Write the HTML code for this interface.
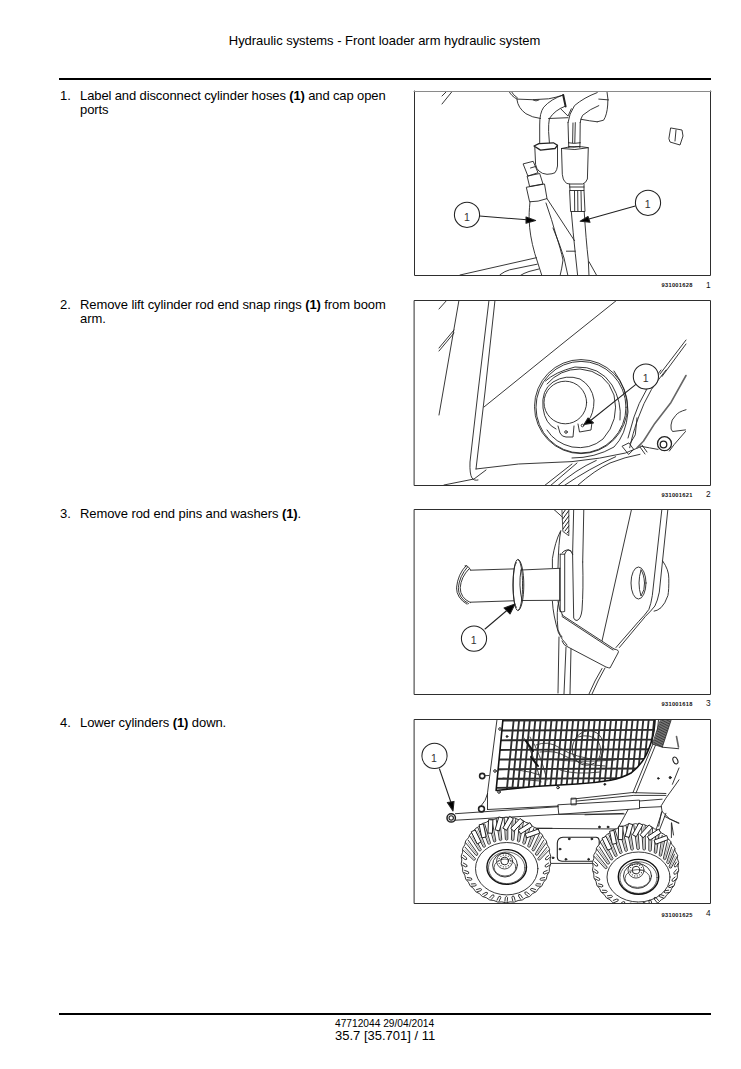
<!DOCTYPE html>
<html><head><meta charset="utf-8">
<style>
html,body{margin:0;padding:0;background:#fff;}
body{width:741px;height:1069px;position:relative;overflow:hidden;font-family:"Liberation Sans",sans-serif;color:#000;}
.a{position:absolute;white-space:nowrap;}
.hdr{font-size:13px;left:0;width:769px;text-align:center;top:33px;letter-spacing:-0.04px;}
.rule{position:absolute;left:59px;width:652px;height:2px;background:#000;}
.step{position:absolute;font-size:13px;line-height:14px;}
.num{position:absolute;left:60px;}
.txt{position:absolute;left:80px;letter-spacing:-0.08px;}
.box{position:absolute;left:414px;width:296px;height:184px;}
.cap{position:absolute;font-size:5.7px;font-weight:bold;left:661.5px;letter-spacing:0.3px;color:#111;}
.capn{position:absolute;font-size:8.3px;left:706px;color:#111;}
.ft1{font-size:10.2px;left:335px;top:1017.8px;}
.ft2{font-size:13px;left:335px;top:1028px;}
svg{position:absolute;left:0;top:0;}
</style></head><body>
<div class="a hdr">Hydraulic systems - Front loader arm hydraulic system</div>
<div class="rule" style="top:78px"></div>

<div class="a step" style="top:89px;left:0"><span class="num">1.</span><span class="txt" style="word-spacing:-0.22px">Label and disconnect cylinder hoses <b>(1)</b> and cap open<br>ports</span></div>
<div class="a step" style="top:298px;left:0"><span class="num">2.</span><span class="txt">Remove lift cylinder rod end snap rings <b>(1)</b> from boom<br>arm.</span></div>
<div class="a step" style="top:507px;left:0"><span class="num">3.</span><span class="txt">Remove rod end pins and washers <b>(1)</b>.</span></div>
<div class="a step" style="top:716px;left:0"><span class="num">4.</span><span class="txt">Lower cylinders <b>(1)</b> down.</span></div>

<svg width="741" height="1069" viewBox="0 0 741 1069" fill="none" stroke="#000" stroke-linecap="round" stroke-linejoin="round">
<defs>
<clipPath id="c1"><rect x="415" y="92" width="295" height="183"/></clipPath>
<clipPath id="c2"><rect x="415" y="301" width="295" height="184"/></clipPath>
<clipPath id="c3"><rect x="415" y="510" width="295" height="184"/></clipPath>
<clipPath id="c4"><rect x="415" y="719" width="295" height="184"/></clipPath>
</defs><g clip-path="url(#c1)"><g id="d1" stroke="#222" stroke-width="0.9">
<path d="M442,96 L447,91 M442,104 L452.5,91"/>
<path d="M508.9,91 Q511,96 517,99.1 M511,91 Q513,95 517.5,98"/>
<path d="M517,99.1 Q532,100.5 548.6,98.8 Q556,97.5 563.2,95"/>
<path d="M533,100 Q536,102 539,100"/>
<path d="M517,99.9 Q518,108 525.9,113.7 Q532,117.5 540.5,118.5 M548.6,118.5 L568,117.7 M581,119.3 Q590,121 597.2,121.8"/>
<path d="M563.2,95 Q551,99 543.7,107.2 Q539.5,113 539.7,125 L539.7,142.8"/>
<path d="M564.8,106.4 Q555,110 549.4,118.5 Q548.4,124 548.6,131.5 L549.4,142.8"/>
<path d="M563.2,95 L565.6,106.4" stroke-width="2"/>
<path d="M597.2,92.6 Q584,97.5 574.5,105.6 Q569,114 568,122.6"/>
<path d="M598.8,105.6 Q590,109 582.6,115.3 Q580.5,119 580.2,122.6"/>
<path d="M603.6,91 L606.9,91 Q608.5,100 607.7,105 Q607,115 603.6,120.2 L597.2,121.8 M598.8,99.1 L608.5,99.9"/>
<path d="M560.7,108.8 L568,116.1 L571.3,108.8"/>
<path d="M568,122.6 L568.6,142.8 M580.2,122.6 L580,142.8 M575.3,122.6 L574.8,142.8 M573,123 L572.6,142.8"/>
<path d="M568.6,142.8 L568.8,147.5 M580,142.8 L579.8,147.5 M568.6,142.8 Q574,144 580,142.8 M568.8,146.5 Q574,148 579.8,146.5"/>
<path d="M561.5,148.5 Q575,145 588.3,147.7 Q575,151 561.5,148.5"/>
<path d="M561.5,148.5 L562.3,174.3 Q563,180 564.8,181.6 Q566.5,184 569.6,184 L582.6,184 Q586,183 587.4,179 L588.3,147.7"/>
<path d="M534,146 L538.9,143.6 L553.4,142.8 L557.5,145.3 L555,148.5 L540.5,150.1 Z" stroke-width="1.3"/>
<path d="M534.8,147 L535.6,164.6 Q536.5,169 538.9,171 Q542,174 547,174.3 Q553,174 555,172.7 Q557,170 557.5,166 L557.5,145.3"/>
<path d="M569.6,184 L570,190.5 M584,184 L584,190.5 M569.6,187 L584,187"/>
<path d="M570,190.5 L584,190.5 L585,211.5 L571,211.5 Z M574.5,191 L574.7,211 M577.7,191 L577.9,211 M581,191 L581.4,211"/>
<path d="M571.3,211.5 Q573,232 575.3,253.6 L577.7,276 M584.2,211.5 Q586,240 588.3,260 L589,276 M589,261.7 L597,276"/>
<path d="M523.5,163.8 L533.2,161.3 L538,172.7 L528.3,176 Z M527.5,176 L539.7,173.5 L543,184 L530,186.4 Z M530.5,168 L535.5,166.5"/>
<path d="M526.7,187.2 L544.5,184 L547,198.6 Q538,202 530,201.8 Z"/>
<path d="M530,201.8 Q528.8,214 529.2,220 Q529.5,235 534.8,253.6 L542,276"/>
<path d="M547,198.6 L574.5,240.7 M546,203 Q552,220 556,235 Q561,250 563,260 Q562,268 560,276 M553,228 Q560,245 564,258 L568,276 M566.4,251.2 L575.3,251.2"/>
<path d="M460,275 L536.4,257.7 M500,274.7 Q505,271 509.7,269.8 L537.2,264.2 M519.4,276 Q524,273 529,271.5 L538.9,269"/>
<path d="M671,128 L682,130 L683,136 L680,145 L670,142 L669,139 Z M676,130 L675,141"/>
</g>
<g id="d1c" stroke="#222" stroke-width="1.05">
<circle cx="467" cy="214.8" r="12.6" fill="#fff"/>
<circle cx="648" cy="202.8" r="12.6" fill="#fff"/>
<path d="M479.5,216 L527,219.8 M635.3,206 L589,219"/>
<path d="M535.6,220.4 L526,217 L526,223.2 Z M580.2,221.3 L588,216.5 L590,222.3 Z" fill="#000"/>
</g>
<text x="466.8" y="220.6" font-size="10.5" text-anchor="middle" fill="#333" stroke="none" font-family="Liberation Sans">1</text>
<text x="647.6" y="208.4" font-size="10.5" text-anchor="middle" fill="#333" stroke="none" font-family="Liberation Sans">1</text>
</g><g clip-path="url(#c2)"><g id="d2" stroke="#222" stroke-width="0.9">
<path d="M439,309 L447,300"/>
<path d="M459,300 L443,392 L439,415"/>
<path d="M439,348 L454,330 M439,351 L454,333"/>
<path d="M489,300 L478,392 L470,462 Q469.5,474 472,478 Q474,481 478,480 M495,300 L485,392 L476,469"/>
<path d="M484,407 L562,344 L617,300"/>
<path d="M476,469 L518.6,464 L572,461.6 Q600,459 625.5,453 L640,447 M444,485 L474,479 L486,470"/>
<path d="M660,374 L686,340 M662,376.5 L686,344"/>
<path d="M666,370 Q655,384 651.5,389.4 Q643,404 638.6,417 Q634,430 632,438 L629.7,447.7 M661,370 Q650,384 646.7,389.4 Q638,404 634,417 L628,438"/>
<path d="M686,375.5 L671,402.4 L654.8,423.4 L643.4,441.3 L637,447.7" stroke="#666" stroke-width="1.6"/>
<path d="M686,409.7 Q678,412 675.8,415.3 Q671,420 671,425 Q670.5,430 672.6,431.5 L685.5,429.9 M685.5,431.5 L674.2,444.5 L669.4,451"/>
<circle cx="664.5" cy="443.7" r="7" stroke-width="1.3"/>
<circle cx="663.5" cy="444.5" r="3.3" stroke-width="1.3"/>
<path d="M640.2,446.1 Q650,448 658,449.4 M622.4,446.1 L628.9,442.9 L633.7,449.4 L628.9,454.2 Z M640,447 L645,454 M642,445 L647,452"/>
<path d="M544,486 L572,464 M550,486 L577,463 M557.4,486 Q575,470 596.3,460.4 M563.5,486 Q590,468 615.7,456.7 M576.9,486 Q595,470 610,463 Q625,457 640,454.3"/>
<path d="M637,417.8 Q636,428 635.3,434.8 L630.5,442.9"/>
<ellipse cx="581" cy="406.6" rx="46.5" ry="47"/>
<ellipse cx="581" cy="407.2" rx="45" ry="45.8"/>
<path d="M547,384 Q560,369 580,369 Q606,371 614,395 Q620,420 603,439 Q590,450 572,447 Q555,443 547,430"/>
<path d="M545.5,381 Q555,372 575,367 Q600,366 612,385 Q622,402 620,420"/>
<path d="M572,458 Q595,458 614,447 Q626,435 628,412 Q628,390 614,371"/>
<circle cx="565.3" cy="402.5" r="21.3"/>
<path d="M556,429 Q545,424 543,408 Q541,390 553,382 Q566,374 580,379 Q592,386 594,400 Q594,414 588,421"/>
<path d="M558,426 L560,433 Q562,437 566,437 L573,437 L574,426 M578,424 L579.5,432 L591,430 L592,422"/>
<circle cx="566" cy="432" r="1.3"/>
<circle cx="582.5" cy="425.5" r="1.3"/>
</g>
<g stroke="#222" stroke-width="1.05" fill="none">
<circle cx="645.9" cy="376.5" r="12.6" fill="#fff"/>
<path d="M635.6,384.6 L590,421"/>
<path d="M584,424.5 L588,418 L593.5,423 Z" fill="#000"/>
</g>
<text x="645.6" y="381.9" font-size="10.5" text-anchor="middle" fill="#333" stroke="none" font-family="Liberation Sans">1</text>
</g><g clip-path="url(#c3)"><g id="d3" stroke="#222" stroke-width="0.9">
<path d="M470.4,570.2 L513.5,568.9 M470.4,602.2 L513.5,600.8"/>
<path d="M466.3,565.5 Q457.8,574 456.5,587.8 Q456.5,598 467,604.2 M469,568.9 Q461,577 460.2,587.8 Q460.3,598 470.4,602.6 M467.5,567 Q459.5,576 458.3,587.8 Q458.3,598 468.5,603.6"/>
<path d="M465,565.8 Q468,565 470.4,569.8"/>
<ellipse cx="517.8" cy="585" rx="4.8" ry="25.5"/><path d="M518.2,559.5 A5.6,25.5 0 0 1 518.2,610.5 M516.5,562.5 A3.4,22.5 0 0 0 516.5,607.5"/>

<path d="M521,570 L559.9,568.3 M522,600.5 L559.9,600.3 M521,570 Q518.3,585 522,600.5"/>
<path d="M560.2,531.7 Q555,542 552.4,558.7 L552.4,567.7 M552.4,601.4 Q553,615 558.5,632.9 Q562,640 567,645 M560.8,530.6 Q558.5,542 558,567.7 M558,601.4 Q558.5,610 562.5,614.9 M559.7,568.3 L559.7,600.3"/>
<path d="M560.2,554.2 L560.2,611.5 M560.2,554.2 L564.7,554.2 Q566.5,550 568,549.7 Q571,549.5 572.6,554.2 M564.7,554.2 L564.7,611.5 Q562,612.5 560.2,611.5"/>
<path d="M572.6,554.2 L573.7,618 Q574.5,620.5 577,620.5 Q581,619 582,610 Q583.5,590 582.7,562"/>
<path d="M573.7,509 L572.6,554.2 M583.8,509 L582.7,562"/>
<path d="M562.3,509 L568.8,509 L568.8,535.7 L563.2,531.7 Z" stroke-width="0.8"/>
<path d="M562.5,514 L566,509 M562.7,519 L568.5,511 M562.9,524 L568.8,516 M563,529 L568.8,521 M565,531 L568.8,526 M567,533 L568.8,531" stroke-width="1"/>
<path d="M553.4,509 L562.3,517"/>
<path d="M631.6,509 L602.1,640.6"/>
<path d="M661.9,509 L652.3,595.6 Q651,604 648.9,609.4 Q645,615 638.5,621.6 L616,647.5 M667.9,509 L659.3,592.1 Q657.5,601 654.9,606 Q651,611 645.4,616.4 L619.4,647.5"/>
<ellipse cx="638.5" cy="583" rx="7.5" ry="16"/>
<path d="M641,570 Q637,583 641,596 Q645,590 644.5,583 Q644,574 641,570"/>
<path d="M662.7,561 Q669,570 668.8,578.3 Q669,590 667.9,595.6 Q665,604 661,607.7 Q657,611 654.1,611.2"/>
<path d="M562,553 Q566,548 571,551"/>
<path d="M559,601 Q556,610 558,630 Q560,635 562,637 M559,637 L558,693"/>
<path d="M562,615 L614,649 M562,616.5 L613,650"/>
<path d="M562,641 Q563,645 568,647 L606,667 Q609,668 610,668 L618,653 Q620,650 614,649"/>
<path d="M566,647 L564,694 M571,649 L570,694"/>

<path d="M605,668 L598,681 L592,694 M602,668.5 L595,681 L589,694"/>

</g>
<g stroke="#222" stroke-width="1.05" fill="none">
<circle cx="474" cy="638.6" r="12.6" fill="#fff"/>
<path d="M485,629 L508,609.5"/>
<path d="M515,604 L504,608 L510,614 Z" fill="#000"/>
</g>
<text x="473.6" y="644.1" font-size="10.5" text-anchor="middle" fill="#333" stroke="none" font-family="Liberation Sans">1</text>
</g><g clip-path="url(#c4)"><!--D4--><g id="d4" stroke="#222" stroke-width="0.9">
<defs><clipPath id="gclip"><path d="M503,719 L655,719 Q654.5,731 652.2,738.7 Q649,750 644.7,757.6 Q639,767 631.5,772.7 Q622,778 610.7,780.2 Q595,783 576.7,784 L534.5,786.5 L496.1,790.5 Z"/></clipPath></defs>
<g clip-path="url(#gclip)">
<path d="M490,720.6 L665,719.8" stroke="#2a2a2a" stroke-width="1.9"/>
<path d="M490,730.6 L665,729.8" stroke="#2a2a2a" stroke-width="1.9"/>
<path d="M490,740.4 L665,739.6" stroke="#2a2a2a" stroke-width="1.9"/>
<path d="M490,750.0 L665,749.2" stroke="#2a2a2a" stroke-width="1.9"/>
<path d="M490,759.6 L665,758.8" stroke="#2a2a2a" stroke-width="1.9"/>
<path d="M490,769.2 L665,768.4" stroke="#2a2a2a" stroke-width="1.9"/>
<path d="M490,778.8 L665,778.0" stroke="#2a2a2a" stroke-width="1.9"/>
<path d="M490,787.9 L665,787.1" stroke="#2a2a2a" stroke-width="1.9"/>
<path d="M513.9,718 L506.6,792" stroke="#2e2e2e" stroke-width="1.85"/>
<path d="M519.3,718 L512.0,792" stroke="#2e2e2e" stroke-width="1.85"/>
<path d="M524.7,718 L517.4,792" stroke="#2e2e2e" stroke-width="1.85"/>
<path d="M530.1,718 L522.8,792" stroke="#2e2e2e" stroke-width="1.85"/>
<path d="M535.5,718 L528.2,792" stroke="#2e2e2e" stroke-width="1.85"/>
<path d="M540.9,718 L533.6,792" stroke="#2e2e2e" stroke-width="1.85"/>
<path d="M546.3,718 L539.0,792" stroke="#2e2e2e" stroke-width="1.85"/>
<path d="M551.7,718 L544.4,792" stroke="#2e2e2e" stroke-width="1.85"/>
<path d="M557.1,718 L549.8,792" stroke="#2e2e2e" stroke-width="1.85"/>
<path d="M562.5,718 L555.2,792" stroke="#2e2e2e" stroke-width="1.85"/>
<path d="M567.9,718 L560.6,792" stroke="#2e2e2e" stroke-width="1.85"/>
<path d="M573.3,718 L566.0,792" stroke="#2e2e2e" stroke-width="1.85"/>
<path d="M578.7,718 L571.4,792" stroke="#2e2e2e" stroke-width="1.85"/>
<path d="M584.1,718 L576.8,792" stroke="#2e2e2e" stroke-width="1.85"/>
<path d="M589.5,718 L582.2,792" stroke="#2e2e2e" stroke-width="1.85"/>
<path d="M594.9,718 L587.6,792" stroke="#2e2e2e" stroke-width="1.85"/>
<path d="M600.3,718 L593.0,792" stroke="#2e2e2e" stroke-width="1.85"/>
<path d="M605.7,718 L598.4,792" stroke="#2e2e2e" stroke-width="1.85"/>
<path d="M611.1,718 L603.8,792" stroke="#2e2e2e" stroke-width="1.85"/>
<path d="M616.5,718 L609.2,792" stroke="#2e2e2e" stroke-width="1.85"/>
<path d="M621.9,718 L614.6,792" stroke="#2e2e2e" stroke-width="1.85"/>
<path d="M627.3,718 L620.0,792" stroke="#2e2e2e" stroke-width="1.85"/>
<path d="M632.7,718 L625.4,792" stroke="#2e2e2e" stroke-width="1.85"/>
<path d="M638.1,718 L630.8,792" stroke="#2e2e2e" stroke-width="1.85"/>
<path d="M643.5,718 L636.2,792" stroke="#2e2e2e" stroke-width="1.85"/>
<path d="M648.9,718 L641.6,792" stroke="#2e2e2e" stroke-width="1.85"/>
<path d="M654.3,718 L647.0,792" stroke="#2e2e2e" stroke-width="1.85"/>
<path d="M659.7,718 L652.4,792" stroke="#2e2e2e" stroke-width="1.85"/>
<path d="M665.1,718 L657.8,792" stroke="#2e2e2e" stroke-width="1.85"/>
<ellipse cx="588" cy="748" rx="15.5" ry="17.5" transform="rotate(20 588 748)" stroke="#333" stroke-width="0.9"/>
<path d="M578,737 Q590,733 598,741 Q603,750 599,758" stroke="#333" stroke-width="0.9"/>
<path d="M524,738 Q533,752 541,782 M530,737 Q540,752 547,780 M536,745 Q548,740 560,748 Q575,758 600,760 M540,752 Q556,750 565,756 Q580,765 605,766 M550,759 Q575,763 615,760 M498,770 Q520,768 540,775 M503,778 L540,781 M560,770 Q575,775 600,772" stroke="#333" stroke-width="0.9"/>
<path d="M526,741 L533,751 M531,757 L538,766" stroke="#111" stroke-width="2"/>
</g>
<path d="M503,719 L655,719 Q654.5,731 652.2,738.7 Q649,750 644.7,757.6 Q639,767 631.5,772.7 Q622,778 610.7,780.2 Q595,783 576.7,784 L534.5,786.5 L496.1,790.5 Z" stroke="#111" stroke-width="1.6"/>
<path d="M655,719.5 Q654.5,731 652.2,738.7 L652.8,744.3 L633,792.5 M658.5,720 L656,744 L636,793" stroke-width="0.9"/>
<path d="M497,719.5 L487.5,792.9 L487.5,809.5 M487.6,793.5 Q486,801 481,806"/>
<circle cx="500" cy="729" r="1.3" stroke-width="1"/>
<circle cx="495" cy="771" r="1.3" stroke-width="1"/>
<circle cx="499" cy="792" r="1.3" stroke-width="1"/>
<circle cx="558" cy="787.5" r="1.3" stroke-width="1"/>
<circle cx="507" cy="736.5" r="0.9" fill="#111"/>
<circle cx="482.2" cy="776" r="2.6" stroke-width="1.6"/><path d="M485,775.7 L489,775.5"/>
<circle cx="481.5" cy="809" r="2.9" stroke-width="1.6"/>
<defs><clipPath id="hclip"><path d="M660.9,719.5 L671.3,719.5 L662.3,747.2 L652.7,744.2 Z"/></clipPath></defs>
<path d="M660.9,719.5 L671.3,719.5 L662.3,747.2 L652.7,744.2 Z" fill="#9a9a9a" stroke="#333" stroke-width="0.8"/>
<g clip-path="url(#hclip)"><path d="M650,699.0 L675,691.0 M650,700.6 L675,692.6 M650,702.2 L675,694.2 M650,703.8 L675,695.8 M650,705.4 L675,697.4 M650,707.0 L675,699.0 M650,708.6 L675,700.6 M650,710.2 L675,702.2 M650,711.8 L675,703.8 M650,713.4 L675,705.4 M650,715.0 L675,707.0 M650,716.6 L675,708.6 M650,718.2 L675,710.2 M650,719.8 L675,711.8 M650,721.4 L675,713.4 M650,723.0 L675,715.0 M650,724.6 L675,716.6 M650,726.2 L675,718.2 M650,727.8 L675,719.8 M650,729.4 L675,721.4 M650,731.0 L675,723.0 M650,732.6 L675,724.6 M650,734.2 L675,726.2 M650,735.8 L675,727.8 M650,737.4 L675,729.4 M650,739.0 L675,731.0 M650,740.6 L675,732.6 M650,742.2 L675,734.2 M650,743.8 L675,735.8 M650,745.4 L675,737.4 M650,747.0 L675,739.0 M650,748.6 L675,740.6 M650,750.2 L675,742.2 M650,751.8 L675,743.8 M650,753.4 L675,745.4 M650,755.0 L675,747.0 M650,756.6 L675,748.6 M650,758.2 L675,750.2 M650,759.8 L675,751.8 M650,761.4 L675,753.4 M650,763.0 L675,755.0 M650,764.6 L675,756.6 M650,766.2 L675,758.2 M650,767.8 L675,759.8 M650,769.4 L675,761.4 M650,771.0 L675,763.0 M650,772.6 L675,764.6 M650,774.2 L675,766.2 M650,775.8 L675,767.8 M650,777.4 L675,769.4 " stroke="#222" stroke-width="0.8"/></g>
<path d="M676.5,736.5 L678.5,747" stroke="#666" stroke-width="1.6"/>
<path d="M662.3,747.2 L678.7,748.7" stroke-width="0.9"/>
<ellipse cx="675.4" cy="760.5" rx="2.2" ry="3.6" transform="rotate(-25 675.4 760.5)" stroke-width="1.1"/>
<circle cx="658.3" cy="778.4" r="0.8" fill="#222"/><circle cx="670.2" cy="777.6" r="1.1" fill="#222"/>
<path d="M679,768 L672.4,784.3 M679,779.8 L675.4,785 L665.9,798.2 L661.2,805.8 L662.1,811.5 L669.7,819 L679,823"/>
<circle cx="451.2" cy="817.9" r="4.2" stroke-width="1.5"/><circle cx="451.2" cy="817.9" r="2.2" stroke-width="1.1"/>
<path d="M455.4,813.7 L558.2,806.7 M455.4,820.2 L559.2,814.3 L624.3,814"/>
<path d="M558.2,804.8 L639.5,800.1 L639.5,808.6 L559.2,814.3 Z M639.5,801 L662.1,799.2 M639.5,807.7 L661.2,806.7"/>
<path d="M571.4,799.2 L631.9,792.6 L665.9,793.5 M576.2,801.1 L633.8,795.4 L665.9,795.4 M571.4,798.2 L576.2,798.2 L576.2,804.8 L571.4,804.8 Z"/>
<path d="M487.5,809.5 L558.2,806"/>
<path d="M628.1,809.6 L616.8,830.3"/>
<path d="M662.1,811.5 L656.5,828.5 M665.9,813.3 L659.3,830.3 M671.6,822.8 L673.5,835"/>
<path d="M534,828.3 L618.3,829 M585,814.8 L623.3,813.4"/>
<path d="M563,837.2 L596,837.2 Q599,837.5 599.2,840.5 L599.2,858.5 Q599,861.2 596,861.2 L562,861.2 Q557.3,861 557.3,857 L557.3,843 Q557.6,837.5 563,837.2 Z" stroke-width="1.1"/>
<path d="M550.8,863.4 L597.2,863.4 M534,828.3 L552,828.3"/>
<circle cx="599.4" cy="827" r="0.9" fill="#222"/>
<circle cx="608" cy="827" r="0.9" fill="#222"/>
<circle cx="569.2" cy="838.9" r="0.9" fill="#222"/>
<circle cx="591.8" cy="838.9" r="0.9" fill="#222"/>
<circle cx="560" cy="849.1" r="0.9" fill="#222"/>
<circle cx="565.9" cy="859.3" r="0.9" fill="#222"/>
<circle cx="588.6" cy="859.3" r="0.9" fill="#222"/>
<circle cx="553" cy="857.8" r="0.9" fill="#222"/>
<circle cx="604.8" cy="784.3" r="0.9" fill="#222"/>
<path d="M661.5,812 L658.7,826.2 M664.4,816.3 L678.5,823.3 M671.4,823.3 L671.4,837.5"/>
<path d="M550.2,860.0 Q551.8,864.0 549.4,867.7 Q550.2,872.0 547.2,875.2 Q547.2,879.5 543.6,882.2 Q542.7,886.4 538.6,888.4 Q537.0,892.4 532.6,893.6 Q530.2,897.3 525.7,897.7 Q522.6,900.9 518.1,900.5 Q514.4,903.1 510.1,901.9 Q506.0,903.8 501.9,901.9 Q497.6,903.1 493.9,900.5 Q489.4,900.9 486.3,897.7 Q481.8,897.3 479.4,893.6 Q475.0,892.4 473.4,888.4 Q469.3,886.4 468.4,882.2 Q464.8,879.5 464.8,875.2 Q461.8,872.0 462.6,867.7 Q460.2,864.0 461.8,860.0 Q460.2,856.0 462.6,852.3 Q461.8,848.0 464.8,844.8 Q464.8,840.5 468.4,837.8 Q469.3,833.6 473.4,831.6 Q475.0,827.6 479.4,826.4 Q481.8,822.7 486.3,822.3 Q489.4,819.1 493.9,819.5 Q497.6,816.9 501.9,818.1 Q506.0,816.2 510.1,818.1 Q514.4,816.9 518.1,819.5 Q522.6,819.1 525.7,822.3 Q530.2,822.7 532.6,826.4 Q537.0,827.6 538.6,831.6 Q542.7,833.6 543.6,837.8 Q547.2,840.5 547.2,844.8 Q550.2,848.0 549.4,852.3 Q551.8,856.0 550.2,860.0" fill="#fff" stroke-width="0.9"/>
<ellipse cx="506.7" cy="868.7" rx="31.2" ry="26.2" fill="#fff" stroke-width="0.9"/>
<path d="M548.7,863.0 L545.4,865.1 Q544.1,867.2 546.6,867.0 L549.9,865.0" stroke-width="0.9"/>
<path d="M547.3,870.4 L543.7,871.9 Q542.1,873.8 544.6,874.0 L548.2,872.6" stroke-width="0.9"/>
<path d="M544.6,877.5 L540.8,878.2 Q538.8,879.7 541.2,880.4 L545.0,879.8" stroke-width="0.9"/>
<path d="M540.7,884.0 L536.8,883.7 Q534.5,884.7 536.6,886.0 L540.5,886.2" stroke-width="0.9"/>
<path d="M535.6,889.6 L531.9,888.3 Q529.4,888.7 531.1,890.5 L534.8,891.8" stroke-width="0.9"/>
<path d="M529.5,894.3 L526.4,892.0 Q523.9,891.6 525.0,893.8 L528.1,896.2" stroke-width="0.9"/>
<path d="M522.6,898.0 L520.4,894.7 Q518.2,893.5 518.5,896.0 L520.7,899.3" stroke-width="0.9"/>
<path d="M515.1,900.4 L514.1,896.6 Q512.5,894.8 511.9,897.2 L512.8,901.0" stroke-width="0.9"/>
<path d="M507.2,901.5 L507.6,897.6 Q506.7,895.3 505.3,897.4 L504.9,901.3" stroke-width="0.9"/>
<path d="M499.1,901.2 L500.8,897.6 Q500.6,895.2 498.7,896.7 L497.0,900.2" stroke-width="0.9"/>
<path d="M491.3,899.4 L493.9,896.5 Q494.5,894.1 492.2,895.0 L489.6,897.9" stroke-width="0.9"/>
<path d="M483.8,896.3 L487.2,894.2 Q488.4,892.1 486.0,892.3 L482.6,894.3" stroke-width="0.9"/>
<path d="M477.2,891.8 L480.9,890.7 Q482.7,889.0 480.2,888.5 L476.5,889.6" stroke-width="0.9"/>
<path d="M471.5,886.3 L475.4,886.0 Q477.5,884.7 475.2,883.7 L471.3,884.0" stroke-width="0.9"/>
<path d="M467.0,879.8 L470.8,880.3 Q473.2,879.5 471.2,878.1 L467.3,877.5" stroke-width="0.9"/>
<path d="M463.9,872.6 L467.5,873.9 Q470.0,873.5 468.3,871.7 L464.6,870.4" stroke-width="0.9"/>
<path d="M462.2,865.0 L465.6,866.9 Q468.1,866.9 466.7,864.9 L463.3,863.0" stroke-width="0.9"/>
<path d="M462.0,857.2 L465.1,859.6 Q467.5,860.1 466.5,857.8 L463.4,855.4" stroke-width="0.9"/>
<path d="M462.7,849.9 L473.7,860.2 Q475.5,860.3 475.4,858.6 L465.2,847.3" fill="#fff" stroke-width="0.9"/>
<path d="M465.0,849.7 L474.6,859.4" stroke="#888" stroke-width="0.7"/>
<path d="M465.4,842.5 L476.0,855.4 Q477.7,855.7 477.9,853.9 L468.3,840.3" fill="#fff" stroke-width="0.9"/>
<path d="M467.8,842.6 L477.0,854.6" stroke="#888" stroke-width="0.7"/>
<path d="M469.6,835.8 L479.2,850.9 Q480.9,851.4 481.3,849.7 L472.7,834.0" fill="#fff" stroke-width="0.9"/>
<path d="M471.9,836.2 L480.3,850.3" stroke="#888" stroke-width="0.7"/>
<path d="M474.9,829.9 L483.3,847.1 Q485.0,847.8 485.5,846.1 L478.2,828.4" fill="#fff" stroke-width="0.9"/>
<path d="M477.2,830.6 L484.4,846.6" stroke="#888" stroke-width="0.7"/>
<path d="M481.3,825.1 L488.2,844.0 Q489.7,844.8 490.5,843.2 L484.7,824.0" fill="#fff" stroke-width="0.9"/>
<path d="M483.5,826.0 L489.3,843.6" stroke="#888" stroke-width="0.7"/>
<path d="M488.5,821.5 L493.6,841.6 Q495.1,842.6 495.9,841.1 L492.0,820.7" fill="#fff" stroke-width="0.9"/>
<path d="M490.5,822.6 L494.8,841.3" stroke="#888" stroke-width="0.7"/>
<path d="M496.2,819.2 L499.4,840.1 Q500.8,841.3 501.8,839.8 L499.8,818.8" fill="#fff" stroke-width="0.9"/>
<path d="M498.2,820.5 L500.6,840.0" stroke="#888" stroke-width="0.7"/>
<path d="M504.2,818.4 L505.4,839.5 Q506.7,840.8 507.8,839.5 L507.8,818.3" fill="#fff" stroke-width="0.9"/>
<path d="M506.0,819.8 L506.6,839.5" stroke="#888" stroke-width="0.7"/>
<path d="M512.2,818.9 L511.4,839.9 Q512.5,841.2 513.8,840.0 L515.8,819.1" fill="#fff" stroke-width="0.9"/>
<path d="M513.9,820.5 L512.6,840.0" stroke="#888" stroke-width="0.7"/>
<path d="M520.0,820.8 L517.3,841.1 Q518.2,842.6 519.6,841.5 L523.6,821.4" fill="#fff" stroke-width="0.9"/>
<path d="M521.5,822.6 L518.5,841.3" stroke="#888" stroke-width="0.7"/>
<path d="M527.3,824.1 L522.7,843.2 Q523.6,844.8 525.1,843.8 L530.8,825.0" fill="#fff" stroke-width="0.9"/>
<path d="M528.6,826.0 L523.9,843.5" stroke="#888" stroke-width="0.7"/>
<path d="M533.8,828.5 L527.7,846.1 Q528.3,847.8 529.9,847.0 L537.1,829.8" fill="#fff" stroke-width="0.9"/>
<path d="M534.9,830.6 L528.8,846.5" stroke="#888" stroke-width="0.7"/>
<path d="M539.3,834.1 L531.9,849.7 Q532.4,851.4 534.0,850.8 L542.5,835.7" fill="#fff" stroke-width="0.9"/>
<path d="M540.2,836.2 L533.0,850.2" stroke="#888" stroke-width="0.7"/>
<path d="M543.6,840.4 L535.3,853.9 Q535.6,855.6 537.3,855.2 L546.6,842.4" fill="#fff" stroke-width="0.9"/>
<path d="M544.3,842.7 L536.3,854.5" stroke="#888" stroke-width="0.7"/>
<path d="M546.7,847.4 L537.8,858.5 Q537.8,860.3 539.6,860.1 L549.4,849.8" fill="#fff" stroke-width="0.9"/>
<path d="M547.1,849.7 L538.7,859.3" stroke="#888" stroke-width="0.7"/>
<path d="M548.6,855.5 L545.6,858.0 Q544.7,860.3 547.1,859.8 L550.1,857.2" stroke-width="0.9"/>
<path d="M480.9,841.6 L475.2,829.9 L471.2,831.8 L477.0,843.6 Z" fill="#fff" stroke-width="1.0"/>
<path d="M486.1,836.6 L483.4,823.9 L479.1,824.8 L481.8,837.5 Z" fill="#fff" stroke-width="1.0"/>
<path d="M492.4,832.9 L492.9,819.9 L488.5,819.7 L488.0,832.7 Z" fill="#fff" stroke-width="1.0"/>
<path d="M499.4,830.6 L503.0,818.1 L498.8,816.9 L495.2,829.4 Z" fill="#fff" stroke-width="1.0"/>
<path d="M506.8,830.0 L513.4,818.7 L509.6,816.4 L503.0,827.8 Z" fill="#fff" stroke-width="1.0"/>
<path d="M514.1,831.0 L523.3,821.5 L520.1,818.4 L510.9,828.0 Z" fill="#fff" stroke-width="1.0"/>
<path d="M521.0,833.7 L532.3,826.4 L529.9,822.7 L518.6,830.0 Z" fill="#fff" stroke-width="1.0"/>
<path d="M527.0,837.7 L539.8,833.2 L538.3,829.0 L525.6,833.6 Z" fill="#fff" stroke-width="1.0"/>
<ellipse cx="506.7" cy="867" rx="19.8" ry="17.4" stroke="#111" stroke-width="1.4"/>
<ellipse cx="506.7" cy="867.8" rx="18.2" ry="15.799999999999999" stroke-width="0.7"/>
<ellipse cx="505" cy="865" rx="12.4" ry="12" stroke-width="0.9"/>
<ellipse cx="505" cy="867.5" rx="10.9" ry="8.5" stroke-width="0.7"/>
<circle cx="504.6" cy="861" r="8" stroke-width="0.8"/>
<circle cx="504.6" cy="861" r="3.8" stroke-width="1"/>
<circle cx="510.6" cy="861.0" r="0.6" fill="#333" stroke="none"/>
<circle cx="510.0" cy="863.6" r="0.6" fill="#333" stroke="none"/>
<circle cx="508.3" cy="865.7" r="0.6" fill="#333" stroke="none"/>
<circle cx="505.9" cy="866.8" r="0.6" fill="#333" stroke="none"/>
<circle cx="503.3" cy="866.8" r="0.6" fill="#333" stroke="none"/>
<circle cx="500.9" cy="865.7" r="0.6" fill="#333" stroke="none"/>
<circle cx="499.2" cy="863.6" r="0.6" fill="#333" stroke="none"/>
<circle cx="498.6" cy="861.0" r="0.6" fill="#333" stroke="none"/>
<circle cx="499.2" cy="858.4" r="0.6" fill="#333" stroke="none"/>
<circle cx="500.9" cy="856.3" r="0.6" fill="#333" stroke="none"/>
<circle cx="503.3" cy="855.2" r="0.6" fill="#333" stroke="none"/>
<circle cx="505.9" cy="855.2" r="0.6" fill="#333" stroke="none"/>
<circle cx="508.3" cy="856.3" r="0.6" fill="#333" stroke="none"/>
<circle cx="510.0" cy="858.4" r="0.6" fill="#333" stroke="none"/>
<path d="M678.1,866.3 Q679.7,870.3 677.4,874.0 Q678.2,878.2 675.2,881.4 Q675.2,885.8 671.7,888.4 Q670.9,892.6 667.0,894.5 Q665.4,898.6 661.2,899.8 Q658.9,903.4 654.5,903.8 Q651.6,907.0 647.2,906.6 Q643.7,909.2 639.5,908.0 Q635.6,909.9 631.7,908.0 Q627.5,909.2 624.0,906.6 Q619.6,907.0 616.7,903.8 Q612.3,903.4 610.0,899.8 Q605.8,898.6 604.2,894.5 Q600.3,892.6 599.5,888.4 Q596.0,885.8 596.0,881.4 Q593.0,878.2 593.8,874.0 Q591.5,870.3 593.1,866.3 Q591.5,862.3 593.8,858.6 Q593.0,854.4 596.0,851.2 Q596.0,846.8 599.5,844.2 Q600.3,840.0 604.2,838.1 Q605.8,834.0 610.0,832.8 Q612.3,829.2 616.7,828.8 Q619.6,825.6 624.0,826.0 Q627.5,823.4 631.7,824.6 Q635.6,822.7 639.5,824.6 Q643.7,823.4 647.2,826.0 Q651.6,825.6 654.5,828.8 Q658.9,829.2 661.2,832.8 Q665.4,834.0 667.0,838.1 Q670.9,840.0 671.7,844.2 Q675.2,846.8 675.2,851.2 Q678.2,854.4 677.4,858.6 Q679.7,862.3 678.1,866.3" fill="#fff" stroke-width="0.9"/>
<ellipse cx="638.5" cy="877" rx="31.5" ry="25" fill="#fff" stroke-width="0.9"/>
<path d="M676.4,869.6 L673.9,872.6 Q673.4,875.1 675.7,874.1 L678.2,871.1" stroke-width="0.9"/>
<path d="M675.1,877.0 L672.1,879.5 Q671.2,881.8 673.6,881.3 L676.6,878.7" stroke-width="0.9"/>
<path d="M672.5,883.9 L669.0,885.7 Q667.6,887.7 670.0,887.7 L673.5,886.0" stroke-width="0.9"/>
<path d="M668.7,890.2 L664.9,890.7 Q662.8,892.2 665.2,893.0 L669.0,892.5" stroke-width="0.9"/>
<path d="M664.0,895.8 L660.4,894.5 Q657.9,894.8 659.6,896.7 L663.3,897.9" stroke-width="0.9"/>
<path d="M658.5,900.6 L656.0,897.6 Q653.7,896.6 654.2,899.0 L656.7,902.1" stroke-width="0.9"/>
<path d="M651.9,904.5 L651.1,900.7 Q649.6,898.7 648.9,901.1 L649.6,904.9" stroke-width="0.9"/>
<path d="M644.5,907.0 L645.2,903.1 Q644.4,900.8 642.9,902.8 L642.2,906.6" stroke-width="0.9"/>
<path d="M636.8,908.0 L638.5,904.6 Q638.5,902.1 636.5,903.5 L634.7,907.0" stroke-width="0.9"/>
<path d="M628.9,907.6 L631.5,904.7 Q632.1,902.3 629.8,903.2 L627.2,906.1" stroke-width="0.9"/>
<path d="M621.3,905.8 L624.5,903.5 Q625.7,901.3 623.2,901.6 L620.0,903.9" stroke-width="0.9"/>
<path d="M614.2,902.5 L617.8,901.1 Q619.4,899.2 616.9,899.0 L613.3,900.4" stroke-width="0.9"/>
<path d="M607.7,898.1 L611.6,897.5 Q613.6,896.0 611.2,895.2 L607.4,895.8" stroke-width="0.9"/>
<path d="M602.2,892.5 L606.1,892.7 Q608.4,891.7 606.3,890.4 L602.4,890.2" stroke-width="0.9"/>
<path d="M597.9,886.0 L601.7,887.0 Q604.1,886.5 602.3,884.8 L598.5,883.8" stroke-width="0.9"/>
<path d="M594.9,878.8 L598.4,880.5 Q600.9,880.4 599.4,878.4 L595.9,876.7" stroke-width="0.9"/>
<path d="M593.3,871.2 L596.5,873.4 Q599.0,873.7 597.8,871.5 L594.6,869.3" stroke-width="0.9"/>
<path d="M593.2,863.5 L596.0,866.1 Q598.4,866.8 597.6,864.4 L594.7,861.8" stroke-width="0.9"/>
<path d="M593.8,856.1 L605.3,868.7 Q607.1,868.9 607.2,867.1 L596.5,853.8" fill="#fff" stroke-width="0.9"/>
<path d="M596.1,856.1 L606.2,867.9" stroke="#888" stroke-width="0.7"/>
<path d="M596.5,848.8 L607.6,864.1 Q609.3,864.5 609.6,862.7 L599.4,846.8" fill="#fff" stroke-width="0.9"/>
<path d="M598.8,849.0 L608.6,863.4" stroke="#888" stroke-width="0.7"/>
<path d="M600.4,842.2 L610.9,859.9 Q612.5,860.4 613.0,858.7 L603.6,840.4" fill="#fff" stroke-width="0.9"/>
<path d="M602.7,842.6 L611.9,859.3" stroke="#888" stroke-width="0.7"/>
<path d="M605.6,836.4 L615.0,856.3 Q616.6,857.0 617.2,855.3 L608.9,834.9" fill="#fff" stroke-width="0.9"/>
<path d="M607.9,837.0 L616.1,855.8" stroke="#888" stroke-width="0.7"/>
<path d="M611.7,831.6 L619.8,853.3 Q621.4,854.1 622.1,852.5 L615.2,830.4" fill="#fff" stroke-width="0.9"/>
<path d="M613.9,832.4 L620.9,852.9" stroke="#888" stroke-width="0.7"/>
<path d="M618.7,828.1 L625.2,851.1 Q626.7,852.0 627.5,850.5 L622.1,827.2" fill="#fff" stroke-width="0.9"/>
<path d="M620.8,829.1 L626.4,850.8" stroke="#888" stroke-width="0.7"/>
<path d="M626.1,825.8 L631.0,849.7 Q632.4,850.8 633.4,849.3 L629.6,825.2" fill="#fff" stroke-width="0.9"/>
<path d="M628.1,827.0 L632.2,849.5" stroke="#888" stroke-width="0.7"/>
<path d="M633.8,825.0 L637.0,849.1 Q638.3,850.3 639.4,848.9 L637.4,824.6" fill="#fff" stroke-width="0.9"/>
<path d="M635.8,826.3 L638.2,849.0" stroke="#888" stroke-width="0.7"/>
<path d="M641.5,825.6 L643.0,849.5 Q644.2,850.7 645.4,849.4 L645.1,825.4" fill="#fff" stroke-width="0.9"/>
<path d="M643.4,827.0 L644.2,849.4" stroke="#888" stroke-width="0.7"/>
<path d="M649.0,827.5 L648.8,850.6 Q649.9,852.0 651.2,850.7 L652.6,827.7" fill="#fff" stroke-width="0.9"/>
<path d="M650.7,829.1 L650.0,850.7" stroke="#888" stroke-width="0.7"/>
<path d="M656.0,830.8 L654.2,852.6 Q655.3,854.1 656.6,852.9 L659.5,831.2" fill="#fff" stroke-width="0.9"/>
<path d="M657.6,832.5 L655.4,852.8" stroke="#888" stroke-width="0.7"/>
<path d="M662.2,835.3 L659.1,855.4 Q660.0,856.9 661.4,855.8 L665.7,836.0" fill="#fff" stroke-width="0.9"/>
<path d="M663.7,837.1 L660.3,855.6" stroke="#888" stroke-width="0.7"/>
<path d="M667.4,840.8 L663.3,858.7 Q664.1,860.3 665.6,859.3 L670.9,841.8" fill="#fff" stroke-width="0.9"/>
<path d="M668.8,842.7 L664.4,859.0" stroke="#888" stroke-width="0.7"/>
<path d="M671.6,847.2 L666.6,862.6 Q667.3,864.3 668.9,863.4 L675.0,848.4" fill="#fff" stroke-width="0.9"/>
<path d="M672.8,849.2 L667.7,863.0" stroke="#888" stroke-width="0.7"/>
<path d="M674.4,854.2 L669.0,866.9 Q669.5,868.6 671.2,868.0 L677.7,855.7" fill="#fff" stroke-width="0.9"/>
<path d="M675.4,856.3 L670.1,867.5" stroke="#888" stroke-width="0.7"/>
<path d="M676.4,862.1 L674.3,865.4 Q674.1,867.9 676.2,866.6 L678.3,863.3" stroke-width="0.9"/>
<path d="M611.6,848.0 L606.0,836.3 L602.0,838.2 L607.6,849.9 Z" fill="#fff" stroke-width="1.0"/>
<path d="M616.5,843.0 L613.9,830.4 L609.6,831.2 L612.2,843.9 Z" fill="#fff" stroke-width="1.0"/>
<path d="M622.6,839.3 L623.0,826.4 L618.6,826.2 L618.2,839.1 Z" fill="#fff" stroke-width="1.0"/>
<path d="M629.3,837.1 L632.8,824.6 L628.6,823.4 L625.1,835.9 Z" fill="#fff" stroke-width="1.0"/>
<path d="M636.4,836.4 L642.8,825.1 L638.9,823.0 L632.6,834.3 Z" fill="#fff" stroke-width="1.0"/>
<path d="M643.5,837.5 L652.3,827.9 L649.1,824.9 L640.2,834.5 Z" fill="#fff" stroke-width="1.0"/>
<path d="M650.1,840.1 L661.0,832.8 L658.5,829.2 L647.6,836.4 Z" fill="#fff" stroke-width="1.0"/>
<path d="M655.9,844.1 L668.2,839.6 L666.7,835.5 L654.4,840.0 Z" fill="#fff" stroke-width="1.0"/>
<ellipse cx="638.5" cy="876.8" rx="20.2" ry="17.4" stroke="#111" stroke-width="1.4"/>
<ellipse cx="638.5" cy="877.5999999999999" rx="18.599999999999998" ry="15.799999999999999" stroke-width="0.7"/>
<ellipse cx="637.5" cy="876" rx="14" ry="12.4" stroke-width="0.9"/>
<ellipse cx="637.5" cy="878.5" rx="12.5" ry="8.9" stroke-width="0.7"/>
<circle cx="636" cy="870.1" r="8" stroke-width="0.8"/>
<circle cx="636" cy="870.1" r="3.8" stroke-width="1"/>
<circle cx="642.0" cy="870.1" r="0.6" fill="#333" stroke="none"/>
<circle cx="641.4" cy="872.7" r="0.6" fill="#333" stroke="none"/>
<circle cx="639.7" cy="874.8" r="0.6" fill="#333" stroke="none"/>
<circle cx="637.3" cy="875.9" r="0.6" fill="#333" stroke="none"/>
<circle cx="634.7" cy="875.9" r="0.6" fill="#333" stroke="none"/>
<circle cx="632.3" cy="874.8" r="0.6" fill="#333" stroke="none"/>
<circle cx="630.6" cy="872.7" r="0.6" fill="#333" stroke="none"/>
<circle cx="630.0" cy="870.1" r="0.6" fill="#333" stroke="none"/>
<circle cx="630.6" cy="867.5" r="0.6" fill="#333" stroke="none"/>
<circle cx="632.3" cy="865.4" r="0.6" fill="#333" stroke="none"/>
<circle cx="634.7" cy="864.3" r="0.6" fill="#333" stroke="none"/>
<circle cx="637.3" cy="864.3" r="0.6" fill="#333" stroke="none"/>
<circle cx="639.7" cy="865.4" r="0.6" fill="#333" stroke="none"/>
<circle cx="641.4" cy="867.5" r="0.6" fill="#333" stroke="none"/>
</g>
<g stroke="#222" stroke-width="1.05" fill="none"><circle cx="434.5" cy="755.9" r="12.6" fill="#fff"/><path d="M439.5,769 L451.5,804"/><path d="M453,811 L447.3,802.4 L454,801.4 Z" fill="#000"/></g>
<text x="433.9" y="761.6" font-size="10.5" text-anchor="middle" fill="#333" stroke="none" font-family="Liberation Sans">1</text><!--/D4--></g>
<g id="frames" stroke-width="1" stroke="#2e2e2e">
<path d="M414.5,91 L414.5,275.5 L710.5,275.5 L710.5,91"/><path d="M414,91.5 L711,91.5" stroke="#8a8a8a"/>
<rect x="414.5" y="300.5" width="296" height="185"/>
<rect x="414.5" y="509.5" width="296" height="185"/>
<rect x="414.5" y="719.5" width="296" height="184"/>
</g>
</svg>

<div class="a cap" style="top:282.3px">931001628</div><div class="a capn" style="top:279.5px">1</div>
<div class="a cap" style="top:491.8px">931001621</div><div class="a capn" style="top:488.5px">2</div>
<div class="a cap" style="top:700.8px">931001618</div><div class="a capn" style="top:697.5px">3</div>
<div class="a cap" style="top:911.5px">931001625</div><div class="a capn" style="top:908px">4</div>

<div class="rule" style="top:1013px"></div>
<div class="a ft1">47712044 29/04/2014</div>
<div class="a ft2">35.7 [35.701] / 11</div>
</body></html>
